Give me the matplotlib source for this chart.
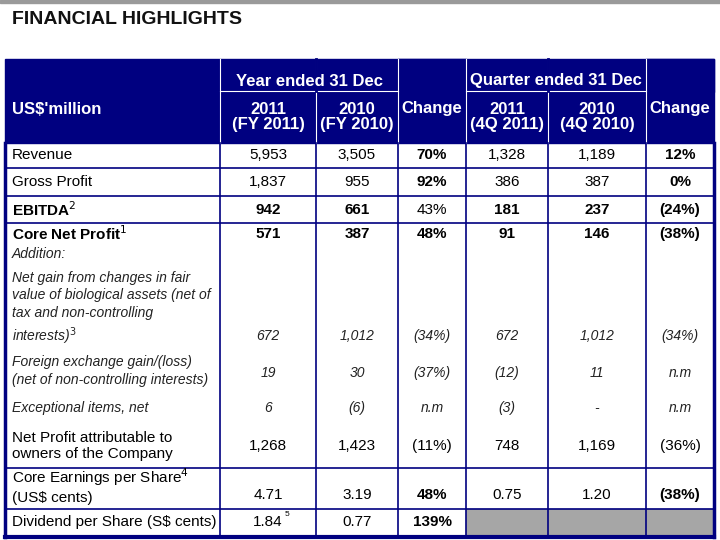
import matplotlib.pyplot as plt
from matplotlib.patches import Rectangle

plt.rcParams['font.family'] = ['Liberation Sans Narrow', 'Liberation Sans', 'DejaVu Sans']

navy = '#000080'
col_x = [5, 220, 316, 398, 466, 548, 646, 714]

fy2011 = ['5,953', '1,837', '942', '571', '672', '19', '6', '1,268', '4.71', '1.84']
fy2010 = ['3,505', '955', '661', '387', '1,012', '30', '(6)', '1,423', '3.19', '0.77']
fy_chg = ['70%', '92%', '43%', '48%', '(34%)', '(37%)', 'n.m', '(11%)', '48%', '139%']
q2011 = ['1,328', '386', '181', '91', '672', '(12)', '(3)', '748', '0.75', None]
q2010 = ['1,189', '387', '237', '146', '1,012', '11', '-', '1,169', '1.20', None]
q_chg = ['12%', '0%', '(24%)', '(38%)', '(34%)', 'n.m', 'n.m', '(36%)', '(38%)', None]
value_y = [155, 182, 210, 234, 336, 373, 408, 446, 495, 522]
bold_vals = [[False, False, True, False, False, True], [False, False, True, False, False, True],
             [True, True, False, True, True, True], [True, True, True, True, True, True],
             [False] * 6, [False] * 6, [False] * 6, [False] * 6,
             [False, False, True, False, False, True], [False, False, True, False, False, False]]
italic_rows = [4, 5, 6]

fig = plt.figure(figsize=(7.2, 5.4), dpi=100)
ax = fig.add_axes([0, 0, 1, 1])
ax.set_xlim(0, 720)
ax.set_ylim(540, 0)
ax.axis('off')

# top gray bar
ax.add_patch(Rectangle((0, 0), 720, 3, color='#9a9a9a'))
ax.text(12, 20, 'FINANCIAL HIGHLIGHTS', fontsize=14, fontweight='bold', va='center', color='#111111')

# header
ax.add_patch(Rectangle((5, 59), 709, 84, color=navy))
for x in col_x[1:-1]:
    ax.plot([x, x], [59, 143], color='white', lw=0.8)
ax.plot([220, 398], [91, 91], color='white', lw=0.8)
ax.plot([466, 646], [91, 91], color='white', lw=0.8)
ax.add_patch(Rectangle((398, 59), 68, 33, color=navy))
ax.add_patch(Rectangle((646, 59), 68, 33, color=navy))
ax.plot([316, 316], [59, 91], color=navy, lw=2)
ax.plot([548, 548], [59, 91], color=navy, lw=2)
hk = dict(color='white', fontweight='bold', fontsize=12, ha='center', va='center')
ax.text(12, 109, "US$'million", **{**hk, 'ha': 'left'})
ax.text(309, 81, 'Year ended 31 Dec', **hk)
ax.text(556, 81, 'Quarter ended 31 Dec', **hk)
ax.text(268, 117, '2011\n(FY 2011)', linespacing=0.95, **hk)
ax.text(357, 117, '2010\n(FY 2010)', linespacing=0.95, **hk)
ax.text(432, 109, 'Change', **hk)
ax.text(507, 117, '2011\n(4Q 2011)', linespacing=0.95, **hk)
ax.text(597, 117, '2010\n(4Q 2010)', linespacing=0.95, **hk)
ax.text(680, 109, 'Change', **hk)

# body grid
ax.add_patch(Rectangle((548 - 82, 509), 248, 28, color='#a6a6a6'))
for y in [168, 196, 223, 468, 509]:
    ax.plot([5, 714], [y, y], color=navy, lw=1.2)
for x in col_x:
    ax.plot([x, x], [143, 537], color=navy, lw=1.2 if x not in (5, 714) else 2.5)
ax.plot([5, 714], [537, 537], color=navy, lw=3)

# labels
lk = dict(fontsize=11, va='center', color='black')
ik = dict(fontsize=10, va='center', style='italic', color='#222222')
ax.text(12, 155, 'Revenue', **lk)
ax.text(12, 182, 'Gross Profit', **lk)
ax.text(12, 210, r'EBITDA$^{2}$', fontweight='bold', **lk)
ax.text(12, 234, r'Core Net Profit$^{1}$', fontweight='bold', **lk)
ax.text(12, 254, 'Addition:', **ik)
ax.text(12, 309, 'Net gain from changes in fair\nvalue of biological assets (net of\ntax and non-controlling\ninterests)$^{3}$', linespacing=1.35, **ik)
ax.text(12, 371, 'Foreign exchange gain/(loss)\n(net of non-controlling interests)', linespacing=1.35, **ik)
ax.text(12, 408, 'Exceptional items, net', **ik)
ax.text(12, 446, 'Net Profit attributable to\nowners of the Company', linespacing=1.25, **lk)
ax.text(12, 486, 'Core Earnings per Share$^{4}$\n(US$ cents)'.replace('(US$', r'(US\$'), linespacing=1.25, **lk)
ax.text(12, 522, r'Dividend per Share (S\$ cents)', **lk)

cols = [fy2011, fy2010, fy_chg, q2011, q2010, q_chg]
for r, y in enumerate(value_y):
    for c, vals in enumerate(cols):
        v = vals[r]
        if v is None:
            continue
        cx = (col_x[c + 1] + col_x[c + 2]) / 2
        if r in italic_rows:
            ax.text(cx, y, v, ha='center', **ik)
        else:
            ax.text(cx, y, v, ha='center', fontsize=11, va='center',
                    fontweight='bold' if bold_vals[r][c] else 'normal')
ax.text(285, 515, '5', fontsize=6, va='center')

fig.savefig('out.png', dpi=100)
